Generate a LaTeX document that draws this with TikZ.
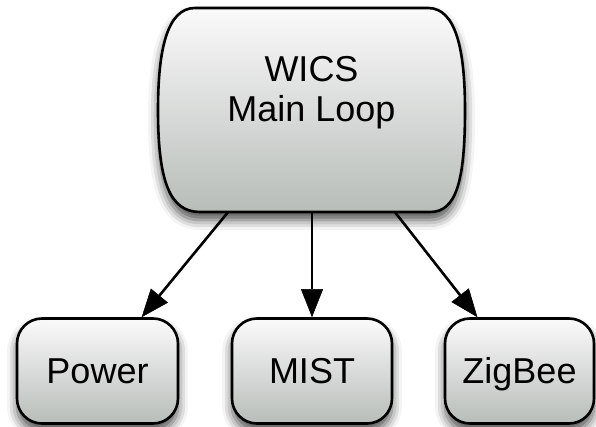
\documentclass[tikz,border=0pt]{standalone}
\usepackage{fontspec}
\setmainfont{Liberation Sans}
\usetikzlibrary{arrows.meta,shadows.blur,calc}

\definecolor{boxtop}{RGB}{250,250,250}
\definecolor{boxbot}{RGB}{184,189,185}

\tikzset{
  boxshade/.style={top color=boxtop, bottom color=boxbot,
    draw=black, line width=2.6pt,
    blur shadow={shadow xshift=0pt, shadow yshift=-8pt,
      shadow blur radius=10pt, shadow opacity=70}},
  subbox/.style={boxshade, rounded corners=25pt, minimum height=105pt,
    inner sep=0pt, text height=25pt, text depth=0pt,
    font=\fontsize{36}{40}\selectfont},
  link/.style={draw=black, line width=2.6pt,
    -{Triangle[length=28pt,width=22pt,fill=black,line width=0.5pt]}}
}

\begin{document}
\begin{tikzpicture}[x=1pt,y=-1pt]
  \useasboundingbox (0,0) rectangle (596,427);

  % main loop box with bulging sides
  \node (main) [inner sep=0pt, minimum width=307pt, minimum height=204pt] at (311.5,110) {};
  \path[boxshade]
    (195,8) -- (428,8)
    .. controls (456,8) and (465,50) .. (465,110)
    .. controls (465,182) and (456,212) .. (430,212)
    -- (200,212)
    .. controls (170,212) and (158,182) .. (158,110)
    .. controls (158,50) and (167,8) .. (195,8) -- cycle;
  \node (mainlbl) [inner sep=0pt, align=center, font=\fontsize{36}{40}\selectfont]
    at (311.5,93) {WICS\\Main Loop};

  % subsystem boxes
  \node (power)  [subbox, minimum width=161pt] at (97.5,371)  {Power};
  \node (mist)   [subbox, minimum width=160pt] at (312,371)   {MIST};
  \node (zigbee) [subbox, minimum width=149pt] at (519.5,371) {ZigBee};

  % connectors
  \coordinate (s1) at ([xshift=-83.5pt]main.south);
  \coordinate (s2) at ([xshift=0.5pt]main.south);
  \coordinate (s3) at ([xshift=83.5pt]main.south);
  \draw[link] (s1) -- (power);
  \draw[link] (s2) -- (mist);
  \draw[link] (s3) -- (zigbee);
\end{tikzpicture}
\end{document}
